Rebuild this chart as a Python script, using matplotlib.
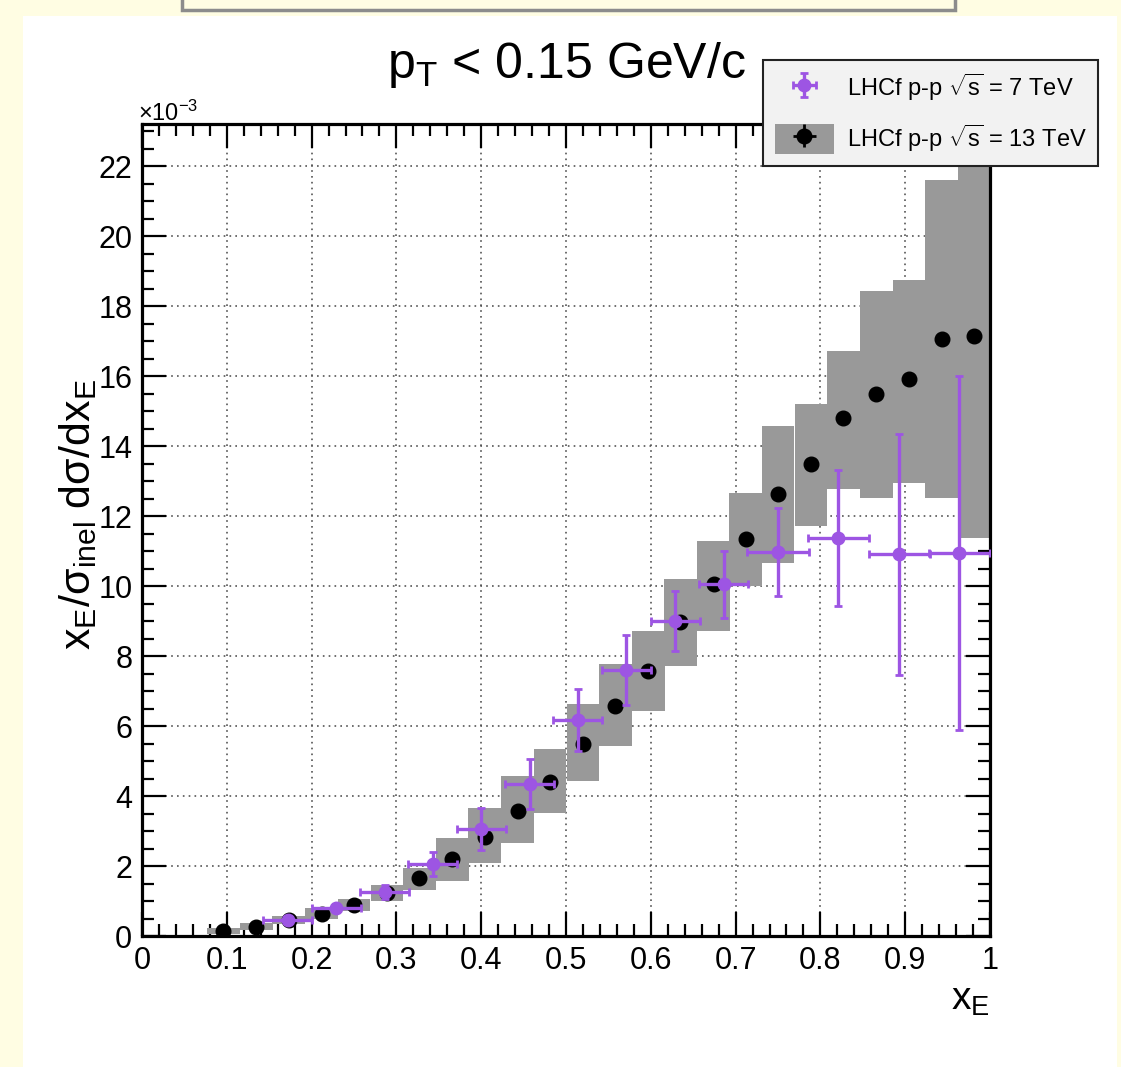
import numpy as np
import matplotlib
matplotlib.use("Agg")
import matplotlib.pyplot as plt
from matplotlib.patches import Rectangle, Patch
from matplotlib.ticker import MultipleLocator

plt.rcParams['font.family'] = ['Liberation Sans', 'DejaVu Sans']
plt.rcParams['mathtext.fontset'] = 'custom'
plt.rcParams['mathtext.rm'] = 'Liberation Sans'
plt.rcParams['mathtext.it'] = 'Liberation Sans:italic'
plt.rcParams['mathtext.bf'] = 'Liberation Sans:bold'
plt.rcParams['mathtext.default'] = 'regular'

# LHCf p-p sqrt(s) = 13 TeV  (values in units of 1e-3)
x13 = [0.096, 0.135, 0.173, 0.212, 0.250, 0.289, 0.327, 0.366, 0.404, 0.443, 0.481, 0.520,
       0.558, 0.597, 0.635, 0.674, 0.712, 0.750, 0.789, 0.827, 0.866, 0.905, 0.943, 0.981]
y13 = [0.14, 0.27, 0.45, 0.63, 0.89, 1.22, 1.65, 2.20, 2.84, 3.58, 4.41, 5.48,
       6.56, 7.56, 8.96, 10.07, 11.35, 12.64, 13.50, 14.80, 15.50, 15.92, 17.06, 17.13]
sys13_lo = [0.06, 0.18, 0.33, 0.48, 0.72, 1.00, 1.31, 1.57, 2.09, 2.66, 3.51, 4.43,
            5.43, 6.43, 7.71, 8.71, 10.00, 10.66, 11.71, 12.77, 12.51, 12.94, 12.51, 11.37]
sys13_hi = [0.22, 0.37, 0.58, 0.80, 1.07, 1.47, 1.94, 2.80, 3.66, 4.57, 5.34, 6.63,
            7.77, 8.71, 10.20, 11.29, 12.66, 14.57, 15.20, 16.71, 18.43, 18.74, 21.60, 25.00]
bin_width13 = 0.0385

# LHCf p-p sqrt(s) = 7 TeV
x7 = [0.172, 0.229, 0.286, 0.343, 0.400, 0.457, 0.514, 0.571, 0.629, 0.686,
      0.750, 0.821, 0.893, 0.964]
x7_err = [0.029, 0.029, 0.029, 0.029, 0.029, 0.029, 0.029, 0.029, 0.029, 0.029,
          0.036, 0.036, 0.036, 0.036]
y7 = [0.45, 0.80, 1.26, 2.06, 3.06, 4.34, 6.17, 7.60, 9.00, 10.05, 10.97, 11.37, 10.91, 10.94]
y7_err = [0.08, 0.12, 0.20, 0.35, 0.60, 0.72, 0.88, 1.00, 0.85, 0.95, 1.26, 1.95, 3.44, 5.06]

labels = [r'LHCf p-p $\sqrt{s}$ = 7 TeV', r'LHCf p-p $\sqrt{s}$ = 13 TeV']

cream = '#fffde3'
purple = '#9d55e3'
band_grey = '#999999'

W, H = 1121, 1067
fig = plt.figure(figsize=(W / 100, H / 100), dpi=100, facecolor=cream)

# white canvas and the box cut at the top
fig.add_artist(Rectangle((23 / W, 0), (1117 - 23) / W, 1 - 16 / H, transform=fig.transFigure,
                         facecolor='white', edgecolor='none', zorder=0))
fig.add_artist(Rectangle((182 / W, 1 - 10 / H), (955 - 182) / W, 0.05, transform=fig.transFigure,
                         facecolor=cream, edgecolor='#8c8c8c', lw=2.5, zorder=1))

ax = fig.add_axes([142 / W, 1 - 936 / H, (990 - 142) / W, (936 - 124) / H])

lo = np.array(sys13_lo)
hi = np.array(sys13_hi)
ax.bar(x13, hi - lo, bottom=lo, width=bin_width13, color=band_grey, edgecolor='none', zorder=2)
eb13 = ax.errorbar(x13, y13, xerr=np.zeros(len(x13)), yerr=np.zeros(len(x13)), fmt='o',
                   color='black', ms=10.5, elinewidth=2, capsize=0, zorder=3)
eb7 = ax.errorbar(x7, y7, xerr=x7_err, yerr=y7_err, fmt='o', color=purple, ms=9,
                  elinewidth=2.4, capsize=3, capthick=2, zorder=4)

ax.set_xlim(0, 1)
ax.set_ylim(0, 23.2)
ax.xaxis.set_major_locator(MultipleLocator(0.1))
ax.xaxis.set_minor_locator(MultipleLocator(0.02))
ax.yaxis.set_major_locator(MultipleLocator(2))
ax.yaxis.set_minor_locator(MultipleLocator(0.5))
ax.xaxis.set_major_formatter(plt.FuncFormatter(lambda v, p: '%g' % round(v, 2)))
ax.tick_params(which='both', direction='in', top=True, right=True, width=1.6, labelsize=22)
ax.tick_params(which='major', length=17, pad=7)
ax.tick_params(which='minor', length=8.5)
for s in ax.spines.values():
    s.set_linewidth(2.3)
ax.grid(True, which='major', linestyle=(0, (1, 2.5)), color='#555555', lw=1.2, zorder=1)
ax.set_axisbelow(True)

fig.text(566 / W, 1 - 78 / H, r'$p_{T}$ < 0.15 GeV/c', fontsize=36, ha='center', va='baseline')
fig.text(138 / W, 1 - 121 / H, r'$\times10^{-3}$', fontsize=17, ha='left', va='baseline')
fig.text(990 / W, 1 - 1000 / H, r'$x_{E}$', fontsize=28, ha='right', va='center')
fig.text(78 / W, 1 - 515 / H, r'$x_{E}/\sigma_{inel}\ d\sigma/dx_{E}$', fontsize=31,
         rotation=90, ha='center', va='center')

leg = fig.legend([eb7, (Patch(facecolor=band_grey, edgecolor='none'), eb13)], labels,
                 loc='upper left', bbox_to_anchor=(763 / W, 1 - 60 / H), fontsize=17,
                 handlelength=2.5, handleheight=1.6, handletextpad=0.55, labelspacing=0.8,
                 borderpad=0.5, borderaxespad=0, fancybox=False, framealpha=1)
leg.get_frame().set_facecolor('#f2f2f2')
leg.get_frame().set_edgecolor('#222222')
leg.get_frame().set_linewidth(1.5)

fig.savefig('out.png', dpi=100, facecolor=cream)
